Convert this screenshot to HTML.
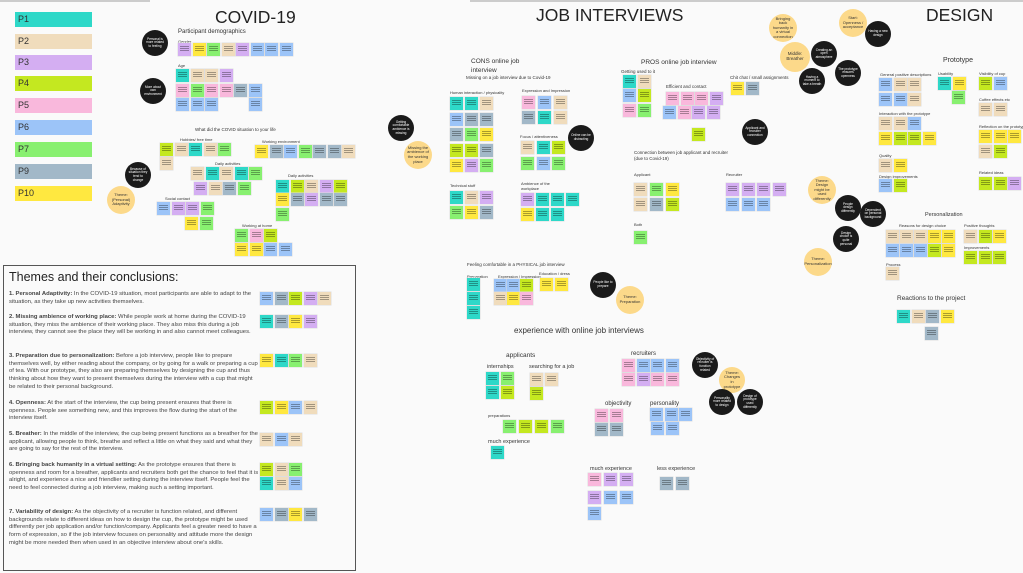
<!DOCTYPE html>
<html><head><meta charset="utf-8"><style>
*{margin:0;padding:0;box-sizing:border-box}
body{width:1023px;height:573px;background:#fafafa;position:relative;overflow:hidden;font-family:"Liberation Sans",sans-serif;color:#333}
.t{position:absolute;white-space:nowrap;color:#333}
.r{position:absolute;display:flex;gap:1.5px;flex-wrap:nowrap}
.r i{display:block;width:13px;height:13px;position:relative;box-shadow:0 0 0 .5px #ddd}
.r i::after{content:"";position:absolute;left:2px;right:2px;top:3px;bottom:4px;background:repeating-linear-gradient(#0005 0 1px,transparent 1px 2px)}
.a{background:#2ed8c8}.b{background:#f0dcbc}.c{background:#d4aef2}.d{background:#c4e820}.e{background:#f9b8dc}.f{background:#9cc4f8}.g{background:#88f070}.h{background:#a2b8c8}.j{background:#ffe840}
.k{position:absolute;width:26px;height:26px;border-radius:50%;background:#1a1a1a;color:#fff;font-size:3.2px;line-height:3.6px;text-align:center;display:flex;align-items:center;justify-content:center;padding:3px}
.y{position:absolute;width:28px;height:28px;border-radius:50%;background:#fcd98a;color:#333;font-size:4px;line-height:4.6px;text-align:center;display:flex;align-items:center;justify-content:center;padding:3px}
.lg{position:absolute;left:15px;width:77px;height:15px;font-size:9px;line-height:15px;padding-left:3px;color:#333}
.s{font-size:4px}
#box{position:absolute;left:3px;top:265px;width:353px;height:306px;border:1.5px solid #555;background:#fafafa}
#box p{position:absolute;left:5px;width:250px;font-size:5.9px;line-height:7.7px;color:#444}
</style></head><body>
<div style="position:absolute;left:0;top:0;width:150px;height:2px;background:#ccc"></div>
<div style="position:absolute;left:470px;top:0;width:553px;height:2px;background:#ccc"></div>

<div class="lg a" style="top:12px">P1</div>
<div class="lg b" style="top:34px">P2</div>
<div class="lg c" style="top:55px">P3</div>
<div class="lg d" style="top:76px">P4</div>
<div class="lg e" style="top:98px">P5</div>
<div class="lg f" style="top:120px">P6</div>
<div class="lg g" style="top:142px">P7</div>
<div class="lg h" style="top:164px">P9</div>
<div class="lg j" style="top:186px">P10</div>

<div class="t" style="left:215px;top:7px;font-size:17.5px;color:#222">COVID-19</div>
<div class="t" style="left:178px;top:29px;font-size:6px">Participant demographics</div>
<div class="t s" style="left:178px;top:39px">Gender</div>
<div class="r" style="left:178px;top:43px"><i class="c"></i><i class="j"></i><i class="g"></i><i class="b"></i><i class="c"></i><i class="f"></i><i class="f"></i><i class="f"></i></div>
<div class="t s" style="left:178px;top:63px">Age</div>
<div class="r" style="left:176px;top:69px"><i class="a"></i><i class="b"></i><i class="b"></i><i class="c"></i></div>
<div class="r" style="left:176px;top:84px"><i class="e"></i><i class="g"></i><i class="e"></i><i class="e"></i><i class="h"></i></div>
<div class="r" style="left:249px;top:84px"><i class="f"></i></div>
<div class="r" style="left:176px;top:98px"><i class="f"></i><i class="f"></i><i class="f"></i></div>
<div class="r" style="left:249px;top:98px"><i class="f"></i></div>
<div class="k" style="left:142px;top:30px">Personal is more related to feeling</div>
<div class="k" style="left:140px;top:78px">More about own environment</div>
<div class="t s" style="left:195px;top:127px;font-size:4.5px">What did the COVID situation to your life</div>
<div class="t s" style="left:180px;top:137px">Hobbies/ free time</div>
<div class="r" style="left:160px;top:143px"><i class="d"></i><i class="b"></i><i class="a"></i><i class="b"></i><i class="g"></i></div>
<div class="r" style="left:160px;top:157px"><i class="b"></i></div>
<div class="t s" style="left:262px;top:139px">Working environment</div>
<div class="r" style="left:255px;top:145px"><i class="j"></i><i class="h"></i><i class="f"></i><i class="g"></i><i class="h"></i><i class="h"></i><i class="b"></i></div>
<div class="t s" style="left:215px;top:161px">Daily activities</div>
<div class="r" style="left:191px;top:167px"><i class="b"></i><i class="a"></i><i class="b"></i><i class="a"></i><i class="g"></i></div>
<div class="r" style="left:194px;top:182px"><i class="c"></i><i class="b"></i><i class="h"></i><i class="g"></i></div>
<div class="t s" style="left:288px;top:173px">Daily activities</div>
<div class="r" style="left:276px;top:180px"><i class="a"></i><i class="d"></i><i class="b"></i><i class="c"></i><i class="d"></i></div>
<div class="r" style="left:276px;top:193px"><i class="j"></i><i class="h"></i><i class="c"></i><i class="h"></i><i class="h"></i></div>
<div class="r" style="left:276px;top:208px"><i class="g"></i></div>
<div class="k" style="left:125px;top:162px">Because of situation they tend to change</div>
<div class="y" style="left:107px;top:186px">Theme: (Personal) Adaptivity</div>
<div class="t s" style="left:165px;top:196px">Social contact</div>
<div class="r" style="left:157px;top:202px"><i class="f"></i><i class="c"></i><i class="c"></i><i class="g"></i></div>
<div class="r" style="left:185px;top:217px"><i class="j"></i><i class="g"></i></div>
<div class="t s" style="left:242px;top:223px">Working at home</div>
<div class="r" style="left:235px;top:229px"><i class="g"></i><i class="e"></i><i class="d"></i></div>
<div class="r" style="left:235px;top:243px"><i class="j"></i><i class="j"></i><i class="f"></i><i class="f"></i></div>

<div id="box">
<div class="t" style="left:5px;top:4px;font-size:12.5px;color:#222">Themes and their conclusions:</div>
<p style="top:25px"><b>1. Personal Adaptivity:</b> In the COVID-19 situation, most participants are able to adapt to the situation, as they take up new activities themselves.</p>
<p style="top:48px"><b>2. Missing ambience of working place:</b> While people work at home during the COVID-19 situation, they miss the ambience of their working place. They also miss this during a job interview, they cannot see the place they will be working in and also cannot meet colleagues.</p>
<p style="top:87px"><b>3. Preparation due to personalization:</b> Before a job interview, people like to prepare themselves well, by either reading about the company, or by going for a walk or preparing a cup of tea. With our prototype, they also are preparing themselves by designing the cup and thus thinking about how they want to present themselves during the interview with a cup that might be related to their personal background.</p>
<p style="top:134px"><b>4. Openness:</b> At the start of the interview, the cup being present ensures that there is openness. People see something new, and this improves the flow during the start of the interview itself.</p>
<p style="top:165px"><b>5. Breather:</b> In the middle of the interview, the cup being present functions as a breather for the applicant, allowing people to think, breathe and reflect a little on what they said and what they are going to say for the rest of the interview.</p>
<p style="top:196px"><b>6. Bringing back humanity in a virtual setting:</b> As the prototype ensures that there is openness and room for a breather, applicants and recruiters both get the chance to feel that it is alright, and experience a nice and friendlier setting during the interview itself. People feel the need to feel connected during a job interview, making such a setting important.</p>
<p style="top:243px"><b>7. Variability of design:</b> As the objectivity of a recruiter is function related, and different backgrounds relate to different ideas on how to design the cup, the prototype might be used differently per job application and/or function/company. Applicants feel a greater need to have a form of expression, so if the job interview focuses on personality and attitude more the design might be more needed then when used in an objective interview about one's skills.</p>
</div>
<div class="r" style="left:260px;top:292px"><i class="f"></i><i class="h"></i><i class="d"></i><i class="c"></i><i class="b"></i></div>
<div class="r" style="left:260px;top:315px"><i class="a"></i><i class="h"></i><i class="j"></i><i class="c"></i></div>
<div class="r" style="left:260px;top:354px"><i class="j"></i><i class="a"></i><i class="g"></i><i class="b"></i></div>
<div class="r" style="left:260px;top:401px"><i class="d"></i><i class="j"></i><i class="f"></i><i class="b"></i></div>
<div class="r" style="left:260px;top:433px"><i class="b"></i><i class="f"></i><i class="b"></i></div>
<div class="r" style="left:260px;top:463px"><i class="d"></i><i class="b"></i><i class="g"></i></div>
<div class="r" style="left:260px;top:477px"><i class="a"></i><i class="b"></i><i class="f"></i></div>
<div class="r" style="left:260px;top:508px"><i class="f"></i><i class="h"></i><i class="j"></i><i class="h"></i></div>

<div class="t" style="left:536px;top:5px;font-size:17.5px;color:#222">JOB INTERVIEWS</div>
<div class="t" style="left:471px;top:58px;font-size:6.5px;line-height:8.5px">CONS online job<br>interview</div>
<div class="t s" style="left:466px;top:75px;font-size:4.5px">Missing on a job interview due to Covid-19</div>
<div class="t s" style="left:450px;top:90px">Human interaction / physicality</div>
<div class="r" style="left:450px;top:97px;gap:2px"><i class="a"></i><i class="a"></i><i class="b"></i></div>
<div class="r" style="left:450px;top:113px;gap:2px"><i class="f"></i><i class="h"></i><i class="h"></i></div>
<div class="r" style="left:450px;top:128px;gap:2px"><i class="h"></i><i class="g"></i><i class="j"></i></div>
<div class="r" style="left:450px;top:144px;gap:2px"><i class="d"></i><i class="d"></i><i class="h"></i></div>
<div class="r" style="left:450px;top:159px;gap:2px"><i class="j"></i><i class="c"></i><i class="g"></i></div>
<div class="t s" style="left:522px;top:88px">Expression and Impression</div>
<div class="r" style="left:522px;top:96px;gap:3px"><i class="e"></i><i class="f"></i><i class="b"></i></div>
<div class="r" style="left:522px;top:111px;gap:3px"><i class="h"></i><i class="a"></i><i class="b"></i></div>
<div class="t s" style="left:520px;top:134px">Focus / attentiveness</div>
<div class="r" style="left:521px;top:141px;gap:2.5px"><i class="b"></i><i class="a"></i><i class="d"></i></div>
<div class="r" style="left:521px;top:157px;gap:2.5px"><i class="g"></i><i class="f"></i><i class="g"></i></div>
<div class="t s" style="left:450px;top:183px">Technical stuff</div>
<div class="r" style="left:450px;top:191px;gap:2px"><i class="a"></i><i class="b"></i><i class="c"></i></div>
<div class="r" style="left:450px;top:206px;gap:2px"><i class="g"></i><i class="j"></i><i class="h"></i></div>
<div class="t s" style="left:521px;top:182px;line-height:4.5px">Ambience of the<br>workplace</div>
<div class="r" style="left:521px;top:193px;gap:2px"><i class="c"></i><i class="a"></i><i class="a"></i><i class="a"></i></div>
<div class="r" style="left:521px;top:208px;gap:2px"><i class="j"></i><i class="a"></i><i class="a"></i></div>
<div class="k" style="left:388px;top:115px">Getting comfortable ambience is missing</div>
<div class="y" style="left:404px;top:141px">Missing the ambience of the working place</div>
<div class="k" style="left:568px;top:125px">Online can be distracting</div>
<div class="t s" style="left:467px;top:262px;font-size:4.5px">Feeling comfortable in a PHYSICAL job interview</div>
<div class="t s" style="left:467px;top:274px">Preparation</div>
<div class="r" style="left:467px;top:278px"><i class="a"></i></div>
<div class="r" style="left:467px;top:292px"><i class="a"></i></div>
<div class="r" style="left:467px;top:306px"><i class="a"></i></div>
<div class="t s" style="left:498px;top:274px">Expression / Impression</div>
<div class="r" style="left:494px;top:279px;gap:0"><i class="f"></i><i class="f"></i><i class="d"></i></div>
<div class="r" style="left:494px;top:292px;gap:0"><i class="b"></i><i class="j"></i><i class="e"></i></div>
<div class="t s" style="left:539px;top:271px">Education / dress</div>
<div class="r" style="left:540px;top:278px;gap:2px"><i class="j"></i><i class="j"></i></div>
<div class="k" style="left:590px;top:272px">People like to prepare</div>
<div class="y" style="left:616px;top:286px">Theme: Preparation</div>

<div class="t" style="left:641px;top:59px;font-size:6.5px">PROS online job interview</div>
<div class="t s" style="left:621px;top:69px;font-size:4.5px">Getting used to it</div>
<div class="r" style="left:623px;top:75px"><i class="a"></i><i class="b"></i></div>
<div class="r" style="left:623px;top:89px"><i class="f"></i><i class="d"></i></div>
<div class="r" style="left:623px;top:104px"><i class="e"></i><i class="g"></i></div>
<div class="t s" style="left:666px;top:84px;font-size:4.5px">Efficient and contact</div>
<div class="r" style="left:666px;top:92px"><i class="e"></i><i class="e"></i><i class="e"></i><i class="c"></i></div>
<div class="r" style="left:663px;top:106px"><i class="f"></i><i class="e"></i><i class="c"></i><i class="c"></i></div>
<div class="r" style="left:692px;top:128px"><i class="d"></i></div>
<div class="t s" style="left:730px;top:75px;font-size:4.5px">Chit chat / small assignments</div>
<div class="r" style="left:731px;top:82px"><i class="j"></i><i class="h"></i></div>
<div class="k" style="left:742px;top:119px">Applicant and recruiter connection</div>
<div class="t s" style="left:634px;top:150px;font-size:4.5px;line-height:5.5px">Connection between job applicant and recruiter<br>(due to Covid-19)</div>
<div class="t s" style="left:634px;top:172px">Applicant</div>
<div class="r" style="left:634px;top:183px;gap:3px"><i class="b"></i><i class="g"></i><i class="j"></i></div>
<div class="r" style="left:634px;top:198px;gap:3px"><i class="b"></i><i class="h"></i><i class="d"></i></div>
<div class="t s" style="left:634px;top:222px">Both</div>
<div class="r" style="left:634px;top:231px"><i class="g"></i></div>
<div class="t s" style="left:726px;top:172px">Recruiter</div>
<div class="r" style="left:726px;top:183px;gap:2.5px"><i class="c"></i><i class="c"></i><i class="c"></i><i class="c"></i></div>
<div class="r" style="left:726px;top:198px;gap:2.5px"><i class="f"></i><i class="f"></i><i class="f"></i></div>

<div class="y" style="left:769px;top:14px">Bringing back humanity in a virtual connection</div>
<div class="y" style="left:839px;top:9px">Start: Openness / acceptance</div>
<div class="k" style="left:865px;top:21px">Having a new design</div>
<div class="y" style="left:780px;top:42px;width:30px;height:30px;font-size:4.5px">Middle: Breather</div>
<div class="k" style="left:811px;top:41px">Creating an open atmosphere</div>
<div class="k" style="left:835px;top:60px">The prototype ensures openness</div>
<div class="k" style="left:799px;top:68px">Having a moment to take a breath</div>
<div class="t" style="left:926px;top:5px;font-size:17.5px;color:#222">DESIGN</div>
<div class="y" style="left:808px;top:176px">Theme: Design might be used differently</div>
<div class="k" style="left:835px;top:195px">People design differently</div>
<div class="k" style="left:860px;top:201px">Dependent on personal background</div>
<div class="k" style="left:833px;top:226px">Design choice is quite personal</div>
<div class="y" style="left:804px;top:248px">Theme: Personalization</div>

<div class="t" style="left:943px;top:57px;font-size:7px">Prototype</div>
<div class="t s" style="left:880px;top:72px">General positive descriptions</div>
<div class="r" style="left:879px;top:78px"><i class="f"></i><i class="b"></i><i class="b"></i></div>
<div class="r" style="left:879px;top:93px"><i class="f"></i><i class="f"></i><i class="b"></i></div>
<div class="t s" style="left:879px;top:111px">Interaction with the prototype</div>
<div class="r" style="left:879px;top:117px"><i class="b"></i><i class="b"></i><i class="f"></i></div>
<div class="r" style="left:879px;top:132px"><i class="j"></i><i class="d"></i><i class="d"></i><i class="j"></i></div>
<div class="t s" style="left:938px;top:71px">Usability</div>
<div class="r" style="left:938px;top:77px"><i class="a"></i><i class="j"></i></div>
<div class="r" style="left:952px;top:91px"><i class="g"></i></div>
<div class="t s" style="left:979px;top:71px">Visibility of cup</div>
<div class="r" style="left:979px;top:77px"><i class="d"></i><i class="f"></i></div>
<div class="t s" style="left:979px;top:97px">Coffee effects etc</div>
<div class="r" style="left:979px;top:103px"><i class="b"></i><i class="b"></i></div>
<div class="t s" style="left:979px;top:124px">Reflection on the prototype</div>
<div class="r" style="left:979px;top:130px"><i class="j"></i><i class="j"></i><i class="j"></i></div>
<div class="r" style="left:979px;top:145px"><i class="b"></i><i class="d"></i></div>
<div class="t s" style="left:879px;top:153px">Quality</div>
<div class="r" style="left:879px;top:159px"><i class="b"></i><i class="j"></i></div>
<div class="t s" style="left:879px;top:174px">Design improvements</div>
<div class="r" style="left:879px;top:179px"><i class="f"></i><i class="d"></i></div>
<div class="t s" style="left:979px;top:170px">Related ideas</div>
<div class="r" style="left:979px;top:177px"><i class="d"></i><i class="d"></i><i class="c"></i></div>
<div class="t" style="left:925px;top:212px;font-size:5.5px">Personalization</div>
<div class="t s" style="left:899px;top:223px">Reasons for design choice</div>
<div class="r" style="left:886px;top:230px;gap:1px"><i class="b"></i><i class="b"></i><i class="b"></i><i class="j"></i><i class="j"></i></div>
<div class="r" style="left:886px;top:244px;gap:1px"><i class="f"></i><i class="f"></i><i class="f"></i><i class="d"></i><i class="j"></i></div>
<div class="t s" style="left:886px;top:262px">Process</div>
<div class="r" style="left:886px;top:267px"><i class="b"></i></div>
<div class="t s" style="left:964px;top:223px">Positive thoughts</div>
<div class="r" style="left:964px;top:230px"><i class="b"></i><i class="d"></i><i class="j"></i></div>
<div class="t s" style="left:964px;top:245px">Improvements</div>
<div class="r" style="left:964px;top:251px"><i class="d"></i><i class="d"></i><i class="d"></i></div>
<div class="t" style="left:897px;top:295px;font-size:6.5px">Reactions to the project</div>
<div class="r" style="left:897px;top:310px"><i class="a"></i><i class="b"></i><i class="h"></i><i class="j"></i></div>
<div class="r" style="left:925px;top:327px"><i class="h"></i></div>

<div class="t" style="left:514px;top:326px;font-size:8px">experience with online job interviews</div>
<div class="t" style="left:506px;top:352px;font-size:6.5px">applicants</div>
<div class="t" style="left:487px;top:364px;font-size:5.5px">internships</div>
<div class="r" style="left:486px;top:372px"><i class="a"></i><i class="g"></i></div>
<div class="r" style="left:486px;top:386px"><i class="a"></i><i class="d"></i></div>
<div class="t" style="left:529px;top:364px;font-size:5.5px">searching for a job</div>
<div class="r" style="left:530px;top:373px"><i class="b"></i><i class="b"></i></div>
<div class="r" style="left:530px;top:387px"><i class="d"></i></div>
<div class="t s" style="left:488px;top:413px">preparations</div>
<div class="r" style="left:503px;top:420px;gap:3px"><i class="g"></i><i class="d"></i><i class="d"></i><i class="g"></i></div>
<div class="t" style="left:488px;top:439px;font-size:5.5px">much experience</div>
<div class="r" style="left:491px;top:446px"><i class="a"></i></div>
<div class="t" style="left:631px;top:351px;font-size:6px">recruiters</div>
<div class="r" style="left:622px;top:359px"><i class="e"></i><i class="f"></i><i class="f"></i><i class="f"></i></div>
<div class="r" style="left:622px;top:373px"><i class="e"></i><i class="c"></i><i class="e"></i><i class="e"></i></div>
<div class="t" style="left:605px;top:401px;font-size:6px">objectivity</div>
<div class="r" style="left:595px;top:409px"><i class="e"></i><i class="e"></i></div>
<div class="r" style="left:595px;top:423px"><i class="h"></i><i class="h"></i></div>
<div class="t" style="left:650px;top:401px;font-size:6px">personality</div>
<div class="r" style="left:650px;top:408px"><i class="f"></i><i class="f"></i><i class="f"></i></div>
<div class="r" style="left:651px;top:422px"><i class="f"></i><i class="f"></i></div>
<div class="k" style="left:692px;top:352px">Objectivity of recruiter is function related</div>
<div class="y" style="left:719px;top:367px;width:26px;height:26px">Theme: Changes in prototype</div>
<div class="k" style="left:709px;top:389px">Personality more related to design</div>
<div class="k" style="left:737px;top:389px">Design of prototype used differently</div>
<div class="t" style="left:590px;top:466px;font-size:5.5px">much experience</div>
<div class="r" style="left:588px;top:473px;gap:3px"><i class="e"></i><i class="c"></i><i class="c"></i></div>
<div class="r" style="left:588px;top:491px;gap:3px"><i class="c"></i><i class="f"></i><i class="f"></i></div>
<div class="r" style="left:588px;top:507px"><i class="f"></i></div>
<div class="t" style="left:657px;top:466px;font-size:5.5px">less experience</div>
<div class="r" style="left:660px;top:477px;gap:3px"><i class="h"></i><i class="h"></i></div>
</body></html>
